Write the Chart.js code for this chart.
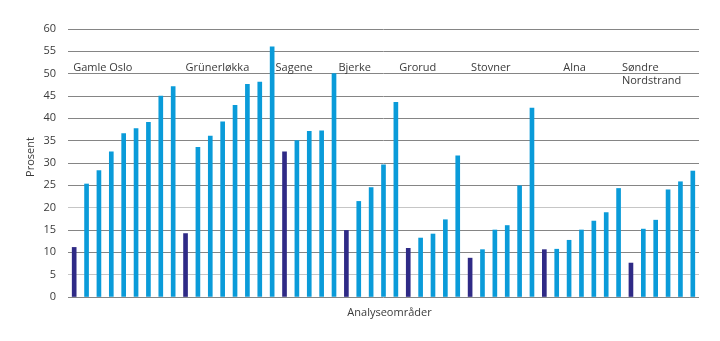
<!DOCTYPE html>
<html lang="no">
<head>
<meta charset="utf-8">
<title>Analyseområder – prosent</title>
<script src="https://cdn.jsdelivr.net/npm/chart.js@4/dist/chart.umd.min.js"></script>
<style>
  html, body { margin: 0; padding: 0; background: #ffffff; }
  #wrap { position: relative; width: 720px; height: 341px; }
</style>
</head>
<body>
<div id="wrap"><canvas id="chart" width="720" height="341"></canvas></div>
<script>
// Districts (bydeler) and the district-wide share (dark bar that opens each group)
const districts = ['Gamle Oslo', 'Grünerløkka', 'Sagene', 'Bjerke', 'Grorud', 'Stovner', 'Alna', 'Søndre Nordstrand'];
const districtTotals = [11.1, 14.2, 32.5, 14.9, 10.9, 8.7, 10.6, 7.6];

// Analysis areas inside each district (light bars), in drawing order
const gamleOslo = [25.3, 28.3, 32.5, 36.6, 37.7, 39.1, 45.0, 47.1];
const grunerlokka = [33.5, 36.0, 39.2, 42.9, 47.6, 48.1, 56.0];
const sagene = [35.0, 37.1, 37.2, 50.0];
const bjerke = [21.4, 24.5, 29.6, 43.6];
const grorud = [13.2, 14.1, 17.3, 31.6];
const stovner = [10.6, 15.0, 16.0, 24.9, 42.3];
const alna = [10.7, 12.7, 15.0, 17.0, 18.9, 24.3];
const sondreNordstrand = [15.2, 17.2, 24.0, 25.8, 28.2];

const areaGroups = [gamleOslo, grunerlokka, sagene, bjerke, grorud, stovner, alna, sondreNordstrand];

// Y axis ticks (percent) and axis titles
const yTicks = [0, 5, 10, 15, 20, 25, 30, 35, 40, 45, 50, 55, 60];
const xTitle = 'Analyseområder';
const yTitle = 'Prosent';

const DISTRICT_COLOR = '#2f2a86';
const AREA_COLOR = '#0a9bd9';
const TEXT_COLOR = '#3a3a3a';
const FONT = '11px "Open Sans", sans-serif';

// Flatten into one category axis: district bar followed by its areas
const labels = [];
const values = [];
const colors = [];
const districtIndex = [];
districts.forEach((name, d) => {
  districtIndex.push(labels.length);
  labels.push(name);
  values.push(districtTotals[d]);
  colors.push(DISTRICT_COLOR);
  areaGroups[d].forEach((v, i) => {
    labels.push(name + ' ' + (i + 1));
    values.push(v);
    colors.push(AREA_COLOR);
  });
});

// District names written inside the plot, above their groups
const groupLabelOffsets = [0, 1, -8, -7, -8, 2, 20, -8];
const groupLabelPlugin = {
  id: 'groupLabels',
  afterDatasetsDraw(chart) {
    const { ctx, chartArea, scales } = chart;
    ctx.save();
    ctx.font = FONT;
    ctx.fillStyle = TEXT_COLOR;
    ctx.textAlign = 'left';
    ctx.textBaseline = 'alphabetic';
    districts.forEach((name, d) => {
      const x = scales.x.getPixelForValue(districtIndex[d]) + groupLabelOffsets[d] - 1;
      const y = chartArea.top + 41.5;
      const lines = name === 'Søndre Nordstrand' ? ['Søndre', 'Nordstrand'] : [name];
      lines.forEach((line, k) => ctx.fillText(line, x, y + k * 13));
    });
    ctx.restore();
  }
};

// Axis titles, placed slightly off the plot centre
const axisTitlePlugin = {
  id: 'axisTitles',
  afterDraw(chart) {
    const { ctx, chartArea } = chart;
    const cx = (chartArea.left + chartArea.right) / 2;
    const cy = (chartArea.top + chartArea.bottom) / 2;
    ctx.save();
    ctx.font = FONT;
    ctx.fillStyle = TEXT_COLOR;
    ctx.textAlign = 'center';
    ctx.textBaseline = 'middle';
    ctx.fillText(xTitle, cx + 6, chartArea.bottom + 16);
    ctx.translate(31, cy - 6);
    ctx.rotate(-Math.PI / 2);
    ctx.fillText(yTitle, 0, 0);
    ctx.restore();
  }
};

new Chart(document.getElementById('chart'), {
  type: 'bar',
  data: {
    labels: labels,
    datasets: [{
      data: values,
      backgroundColor: colors,
      borderWidth: 0,
      barThickness: 4
    }]
  },
  options: {
    responsive: false,
    animation: false,
    layout: { padding: { top: 29, right: 21, bottom: 44, left: 0 } },
    plugins: {
      legend: { display: false },
      tooltip: { enabled: false }
    },
    scales: {
      x: {
        grid: { display: false, drawTicks: false },
        border: { display: false },
        ticks: { display: false }
      },
      y: {
        min: 0,
        max: 60,
        afterBuildTicks(scale) {
          scale.ticks = yTicks.map(v => ({ value: v }));
        },
        afterFit(scale) { scale.width = 68; },
        grid: {
          drawTicks: false,
          color: (c) => (c.tick && (c.tick.value === 5 || c.tick.value === 20)) ? '#c6c6c6' : '#858585',
          lineWidth: 1
        },
        border: { display: false },
        ticks: {
          padding: 12,
          color: TEXT_COLOR,
          font: { family: '"Open Sans", sans-serif', size: 11 }
        }
      }
    }
  },
  plugins: [groupLabelPlugin, axisTitlePlugin]
});
</script>
</body>
</html>
